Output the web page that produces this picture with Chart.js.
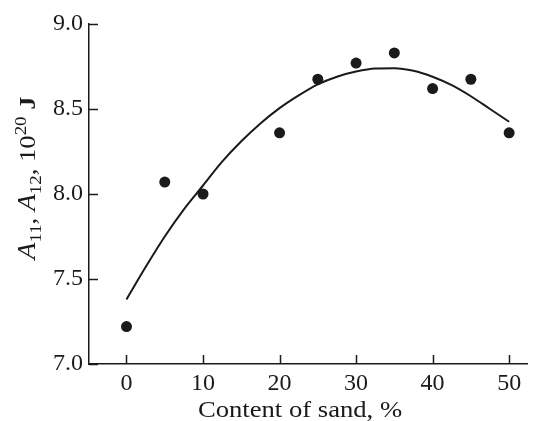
<!DOCTYPE html>
<html>
<head>
<meta charset="utf-8">
<script src="https://cdn.jsdelivr.net/npm/chart.js@4/dist/chart.umd.min.js"></script>
<style>
html,body{margin:0;padding:0;background:#fff;}
#wrap{width:533px;height:421px;position:relative;}
</style>
</head>
<body>
<div id="wrap"><canvas id="c"></canvas></div>
<script>
// Measured points
const sandContent = [0, 5, 10, 20, 25, 30, 35, 40, 45, 50];
const hamakerValues = [7.22, 8.07, 8.00, 8.36, 8.675, 8.77, 8.83, 8.62, 8.675, 8.36];
// Fitted curve
const curveX = [0, 2.5, 5, 7.5, 10, 12.5, 15, 17.5, 20, 22.5, 25, 27.5, 30, 32.5, 35, 37.5, 40, 42.5, 45, 47.5, 50];
const curveY = [7.38, 7.57, 7.75, 7.91, 8.05, 8.19, 8.31, 8.415, 8.505, 8.58, 8.645, 8.69, 8.72, 8.738, 8.74, 8.725, 8.69, 8.64, 8.575, 8.50, 8.425];
// Tick labels
const xTickValues = [0, 10, 20, 30, 40, 50];
const yTickValues = [7.0, 7.5, 8.0, 8.5, 9.0];
const xTitle = 'Content of sand, %';

const FONT = '"Liberation Serif", "Times New Roman", serif';
const INK = '#1a1a1a';
const STRETCH = 1.11;

const overlay = {
  id: 'overlay',
  afterDraw(chart) {
    const ctx = chart.ctx;
    const xs = chart.scales.x, ys = chart.scales.y;
    const area = chart.chartArea;
    ctx.save();
    ctx.strokeStyle = INK;
    ctx.lineWidth = 1.5;
    // inward tick marks
    xs.ticks.forEach(t => {
      const px = Math.round(xs.getPixelForValue(t.value)) + 0.5;
      ctx.beginPath(); ctx.moveTo(px, area.bottom); ctx.lineTo(px, area.bottom - 9); ctx.stroke();
    });
    ys.ticks.forEach(t => {
      const py = Math.round(ys.getPixelForValue(t.value)) + 0.5;
      ctx.beginPath(); ctx.moveTo(area.left, py); ctx.lineTo(area.left + 9, py); ctx.stroke();
    });
    // x title
    ctx.fillStyle = INK;
    ctx.save();
    ctx.font = '24px ' + FONT;
    ctx.textAlign = 'center';
    ctx.textBaseline = 'alphabetic';
    ctx.translate(300, 417);
    ctx.scale(STRETCH, 1);
    ctx.fillText(xTitle, 0, 0);
    ctx.restore();
    // y title with sub/superscripts, rotated
    ctx.save();
    ctx.translate(35, 178);
    ctx.rotate(-Math.PI / 2);
    ctx.scale(STRETCH, 1);
    const parts = [
      {t: 'A', f: 'italic 25px ' + FONT, dy: 0},
      {t: '11', f: '17px ' + FONT, dy: 6},
      {t: ', ', f: '24px ' + FONT, dy: 0},
      {t: 'A', f: 'italic 25px ' + FONT, dy: 0},
      {t: '12', f: '17px ' + FONT, dy: 6},
      {t: ', 10', f: '24px ' + FONT, dy: 0},
      {t: '20', f: '17px ' + FONT, dy: -9},
      {t: ' J', f: 'bold 24px ' + FONT, dy: 0}
    ];
    let total = 0;
    parts.forEach(p => { ctx.font = p.f; p.w = ctx.measureText(p.t).width; total += p.w; });
    let cx = -total / 2;
    ctx.textAlign = 'left';
    parts.forEach(p => { ctx.font = p.f; ctx.fillText(p.t, cx, p.dy); cx += p.w; });
    ctx.restore();
    ctx.restore();
  }
};

new Chart(document.getElementById('c'), {
  type: 'scatter',
  data: {
    datasets: [
      {
        type: 'line',
        data: curveX.map((x, i) => ({x: x, y: curveY[i]})),
        borderColor: INK,
        borderWidth: 2,
        pointRadius: 0,
        fill: false,
        cubicInterpolationMode: 'monotone'
      },
      {
        data: sandContent.map((x, i) => ({x: x, y: hamakerValues[i]})),
        backgroundColor: INK,
        borderColor: INK,
        pointRadius: 5.5,
        pointBorderWidth: 0
      }
    ]
  },
  plugins: [overlay],
  options: {
    responsive: true,
    maintainAspectRatio: false,
    animation: false,
    layout: {padding: {top: 24, right: 0, left: 0, bottom: 0}},
    plugins: {legend: {display: false}, tooltip: {enabled: false}},
    scales: {
      x: {
        type: 'linear', min: -4.9, max: 52.4,
        afterBuildTicks: s => { s.ticks = xTickValues.map(v => ({value: v})); },
        afterFit: s => { s.height = 57; s.paddingRight = 0; s.paddingLeft = 0; },
        grid: {display: false, drawTicks: false},
        border: {display: true, color: INK, width: 1.5},
        ticks: {color: INK, font: {family: FONT, size: 24}, padding: 5, maxRotation: 0,
                callback: v => String(v)}
      },
      y: {
        type: 'linear', min: 7.0, max: 9.0,
        afterBuildTicks: s => { s.ticks = yTickValues.map(v => ({value: v})); },
        afterFit: s => { s.width = 89; s.paddingTop = 0; s.paddingBottom = 0; },
        grid: {display: false, drawTicks: false},
        border: {display: true, color: INK, width: 1.5},
        ticks: {color: INK, font: {family: FONT, size: 24}, padding: 6,
                callback: v => Number(v).toFixed(1)}
      }
    }
  }
});
</script>
</body>
</html>
